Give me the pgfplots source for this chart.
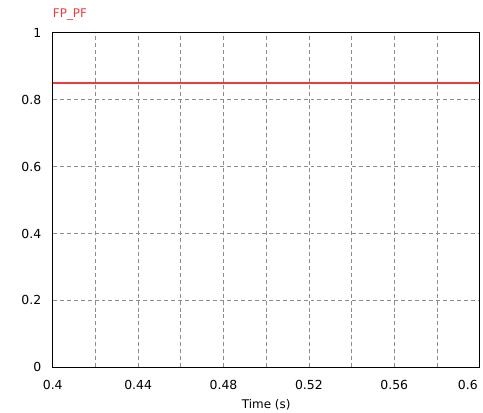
\documentclass[border=0pt]{standalone}
\usepackage{pgfplots}
\pgfplotsset{compat=1.18}
\usepackage{fontspec}
\setmainfont{DejaVu Sans}
\definecolor{pfred}{RGB}{235,60,60}
\definecolor{gridgray}{RGB}{140,140,140}
\begin{document}
\begin{tikzpicture}
\begin{axis}[
    scale only axis,
    width=429pt, height=336pt,
    xmin=0.4, xmax=0.6, ymin=0, ymax=1,
    xtick={0.4,0.44,...,0.61},
    minor xtick={0.42,0.46,...,0.59},
    ytick={0,0.2,...,1.01},
    xticklabels={0.4,0.44,0.48,0.52,0.56,\makebox[0pt][r]{0.6\hspace{2pt}}},
    yticklabels={0,0.2,0.4,0.6,0.8,1},
    major tick length=0pt, minor tick length=0pt,
    grid=both,
    major grid style={gridgray, dash pattern=on 4pt off 3pt, line width=0.8pt},
    minor grid style={gridgray, dash pattern=on 4pt off 3pt, line width=0.8pt},
    axis line style={black, line width=1pt},
    tick label style={font=\fontsize{12.5}{14}\selectfont},
    /pgf/number format/assume math mode=true,
    xticklabel style={yshift=-10pt},
    yticklabel style={xshift=-8pt},
    xlabel={Time (s)},
    xlabel style={font=\fontsize{12}{14}\selectfont, yshift=-2pt},
    title={FP\_PF},
    title style={at={(0,1)}, anchor=south west, yshift=6pt, inner sep=0pt,
        text=pfred, font=\fontsize{12}{14}\selectfont},
]
\addplot[draw=pfred, line width=1.3pt, mark=none] coordinates {(0.4,0.85) (0.6,0.85)};
\end{axis}
\path (-53pt,-45pt) rectangle (430pt,369pt);
\end{tikzpicture}
\end{document}
